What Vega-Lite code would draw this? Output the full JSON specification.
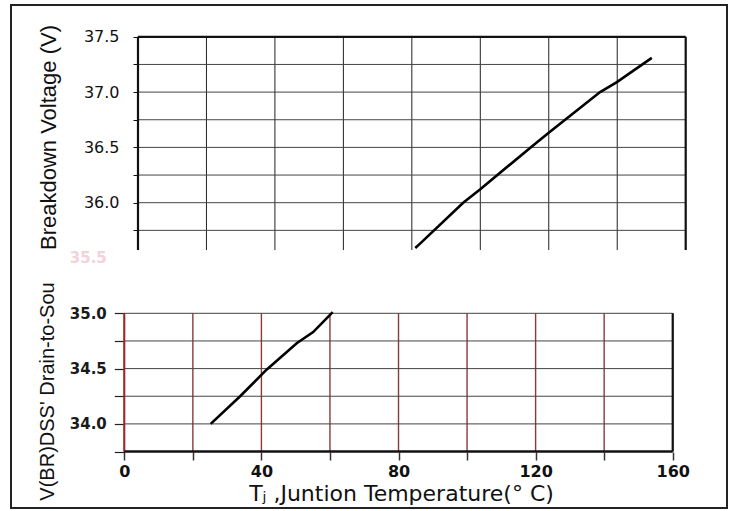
{
  "$schema": "https://vega.github.io/schema/vega-lite/v6.json",
  "width": 716,
  "height": 503,
  "autosize": {"type": "none"},
  "padding": {"left": 11, "top": 5, "right": 8, "bottom": 3},
  "background": "white",
  "config": {
    "view": {"stroke": "#222", "strokeWidth": 2},
    "font": "DejaVu Sans"
  },
  "datasets": {
    "topCurve": [
      {"T": 81.0, "V": 35.59},
      {"T": 82.4, "V": 35.63},
      {"T": 95.0, "V": 36.0},
      {"T": 99.9, "V": 36.12},
      {"T": 115.5, "V": 36.52},
      {"T": 119.9, "V": 36.63},
      {"T": 135.0, "V": 37.0},
      {"T": 139.9, "V": 37.09},
      {"T": 150.1, "V": 37.31}
    ],
    "bottomCurve": [
      {"T": 25.2, "V": 34.0},
      {"T": 33.8, "V": 34.25},
      {"T": 41.5, "V": 34.49},
      {"T": 50.3, "V": 34.73},
      {"T": 55.1, "V": 34.83},
      {"T": 60.8, "V": 35.01}
    ],
    "xgrid": [
      {"T": 0}, {"T": 20}, {"T": 40}, {"T": 60}, {"T": 80},
      {"T": 100}, {"T": 120}, {"T": 140}, {"T": 160}
    ],
    "ygridTop": [
      {"V": 35.75}, {"V": 36.0}, {"V": 36.25}, {"V": 36.5},
      {"V": 36.75}, {"V": 37.0}, {"V": 37.25}
    ],
    "ygridBottom": [
      {"V": 34.0}, {"V": 34.25}, {"V": 34.5}, {"V": 34.75}, {"V": 35.0}
    ]
  },
  "layer": [
    {
      "data": {"name": "xgrid"},
      "mark": {"type": "rule", "color": "#222", "strokeWidth": 1},
      "encoding": {
        "x": {"field": "T", "type": "quantitative", "axis": null,
              "scale": {"domain": [-37.10, 172.07], "nice": false, "zero": false}},
        "y": {"datum": 35.572, "type": "quantitative",
              "scale": {"domain": [33.2396, 37.7875], "nice": false, "zero": false},
              "axis": {
                "orient": "left", "offset": -127,
                "values": [35.75, 36.0, 36.25, 36.5, 36.75, 37.0, 37.25, 37.5],
                "labelExpr": "datum.value % 0.5 == 0 ? format(datum.value, '.1f') : ''",
                "domain": false, "grid": false,
                "tickSize": 5, "tickColor": "#111", "tickWidth": 1,
                "labelFont": "DejaVu Sans", "labelFontSize": 16, "labelColor": "#111",
                "labelPadding": 14, "labelOverlap": false, "labelFlush": false,
                "title": "Breakdown Voltage (V)",
                "titleFont": "Liberation Sans", "titleFontSize": 22,
                "titleFontWeight": "normal", "titleColor": "#111",
                "titleX": -83, "titleY": 132, "titleBaseline": "alphabetic"
              }},
        "y2": {"datum": 37.5}
      }
    },
    {
      "data": {"name": "ygridTop"},
      "mark": {"type": "rule", "color": "#444", "strokeWidth": 1},
      "encoding": {
        "y": {"field": "V", "type": "quantitative", "axis": null,
              "scale": {"domain": [33.2396, 37.7875], "nice": false, "zero": false}},
        "x": {"datum": 0, "type": "quantitative", "axis": null,
              "scale": {"domain": [-37.10, 172.07], "nice": false, "zero": false}},
        "x2": {"datum": 160}
      }
    },
    {
      "data": {"values": [{}]},
      "mark": {"type": "rule", "color": "#111", "strokeWidth": 2.2},
      "encoding": {
        "x": {"datum": 0, "type": "quantitative", "axis": null,
              "scale": {"domain": [-37.10, 172.07], "nice": false, "zero": false}},
        "y": {"datum": 35.572, "type": "quantitative", "axis": null,
              "scale": {"domain": [33.2396, 37.7875], "nice": false, "zero": false}},
        "y2": {"datum": 37.5}
      }
    },
    {
      "data": {"values": [{}]},
      "mark": {"type": "rule", "color": "#111", "strokeWidth": 2.2},
      "encoding": {
        "x": {"datum": 160, "type": "quantitative", "axis": null,
              "scale": {"domain": [-37.10, 172.07], "nice": false, "zero": false}},
        "y": {"datum": 35.572, "type": "quantitative", "axis": null,
              "scale": {"domain": [33.2396, 37.7875], "nice": false, "zero": false}},
        "y2": {"datum": 37.5}
      }
    },
    {
      "data": {"values": [{}]},
      "mark": {"type": "rule", "color": "#111", "strokeWidth": 2.2},
      "encoding": {
        "x": {"datum": 0, "type": "quantitative", "axis": null,
              "scale": {"domain": [-37.10, 172.07], "nice": false, "zero": false}},
        "x2": {"datum": 160},
        "y": {"datum": 37.5, "type": "quantitative", "axis": null,
              "scale": {"domain": [33.2396, 37.7875], "nice": false, "zero": false}}
      }
    },
    {
      "data": {"name": "topCurve"},
      "mark": {"type": "line", "color": "#000", "strokeWidth": 2.6},
      "encoding": {
        "x": {"field": "T", "type": "quantitative", "axis": null,
              "scale": {"domain": [-37.10, 172.07], "nice": false, "zero": false}},
        "y": {"field": "V", "type": "quantitative", "axis": null,
              "scale": {"domain": [33.2396, 37.7875], "nice": false, "zero": false}}
      }
    },
    {
      "data": {"name": "xgrid"},
      "mark": {"type": "rule", "color": "#8a3a3a", "strokeWidth": 1.4},
      "encoding": {
        "x": {"field": "T", "type": "quantitative",
              "scale": {"domain": [-33.06, 175.84], "nice": false, "zero": false},
              "axis": {
                "orient": "bottom", "offset": -56,
                "values": [0, 20, 40, 60, 80, 100, 120, 140, 160],
                "labelExpr": "datum.value % 40 == 0 ? format(datum.value, 'd') : ''",
                "domain": false, "grid": false,
                "tickSize": 8, "tickColor": "#333", "tickWidth": 1.5,
                "labelFont": "DejaVu Sans", "labelFontSize": 16, "labelFontWeight": "bold",
                "labelColor": "#111", "labelPadding": 3,
                "labelOverlap": false, "labelFlush": false,
                "title": "Tⱼ ,Juntion Temperature(° C)",
                "titleFont": "DejaVu Sans", "titleFontSize": 22, "titleFontWeight": "normal",
                "titleColor": "#111",
                "titleX": 390, "titleY": 48, "titleBaseline": "alphabetic"
              }},
        "y": {"datum": 33.75, "type": "quantitative",
              "scale": {"domain": [33.2396, 37.7875], "nice": false, "zero": false},
              "axis": {
                "orient": "left", "offset": -113.3,
                "values": [33.75, 34.0, 34.25, 34.5, 34.75, 35.0, 35.5],
                "labelExpr": "datum.value % 0.5 == 0 ? format(datum.value, '.1f') : ''",
                "domain": false, "grid": false,
                "tickSize": 10, "tickWidth": 1.2,
                "tickColor": {"condition": {"test": "datum.value > 35.2", "value": "transparent"}, "value": "#222"},
                "labelFont": "DejaVu Sans", "labelFontSize": 15, "labelFontWeight": "bold",
                "labelColor": {"condition": {"test": "datum.value > 35.2", "value": "#f2d3d7"}, "value": "#1a1a1a"},
                "labelPadding": 8, "labelOverlap": false, "labelFlush": false,
                "title": "V(BR)DSS' Drain-to-Sou",
                "titleFont": "Liberation Sans", "titleFontSize": 20,
                "titleFontWeight": "normal", "titleColor": "#111",
                "titleX": -71, "titleY": 386, "titleBaseline": "alphabetic"
              }},
        "y2": {"datum": 35.0}
      }
    },
    {
      "data": {"name": "ygridBottom"},
      "mark": {"type": "rule", "color": "#444", "strokeWidth": 1},
      "encoding": {
        "y": {"field": "V", "type": "quantitative", "axis": null,
              "scale": {"domain": [33.2396, 37.7875], "nice": false, "zero": false}},
        "x": {"datum": 0, "type": "quantitative", "axis": null,
              "scale": {"domain": [-33.06, 175.84], "nice": false, "zero": false}},
        "x2": {"datum": 160}
      }
    },
    {
      "data": {"values": [{}]},
      "mark": {"type": "rule", "color": "#a02525", "strokeWidth": 2},
      "encoding": {
        "x": {"datum": 0, "type": "quantitative", "axis": null,
              "scale": {"domain": [-33.06, 175.84], "nice": false, "zero": false}},
        "y": {"datum": 33.75, "type": "quantitative", "axis": null,
              "scale": {"domain": [33.2396, 37.7875], "nice": false, "zero": false}},
        "y2": {"datum": 35.0}
      }
    },
    {
      "data": {"values": [{}]},
      "mark": {"type": "rule", "color": "#111", "strokeWidth": 2.2},
      "encoding": {
        "x": {"datum": 160, "type": "quantitative", "axis": null,
              "scale": {"domain": [-33.06, 175.84], "nice": false, "zero": false}},
        "y": {"datum": 33.75, "type": "quantitative", "axis": null,
              "scale": {"domain": [33.2396, 37.7875], "nice": false, "zero": false}},
        "y2": {"datum": 35.0}
      }
    },
    {
      "data": {"values": [{}]},
      "mark": {"type": "rule", "color": "#111", "strokeWidth": 2.4},
      "encoding": {
        "x": {"datum": 0, "type": "quantitative", "axis": null,
              "scale": {"domain": [-33.06, 175.84], "nice": false, "zero": false}},
        "x2": {"datum": 160},
        "y": {"datum": 33.75, "type": "quantitative", "axis": null,
              "scale": {"domain": [33.2396, 37.7875], "nice": false, "zero": false}}
      }
    },
    {
      "data": {"name": "bottomCurve"},
      "mark": {"type": "line", "color": "#000", "strokeWidth": 2.6},
      "encoding": {
        "x": {"field": "T", "type": "quantitative", "axis": null,
              "scale": {"domain": [-33.06, 175.84], "nice": false, "zero": false}},
        "y": {"field": "V", "type": "quantitative", "axis": null,
              "scale": {"domain": [33.2396, 37.7875], "nice": false, "zero": false}}
      }
    }
  ],
  "resolve": {
    "scale": {"x": "independent", "y": "independent"},
    "axis": {"x": "independent", "y": "independent"}
  }
}
